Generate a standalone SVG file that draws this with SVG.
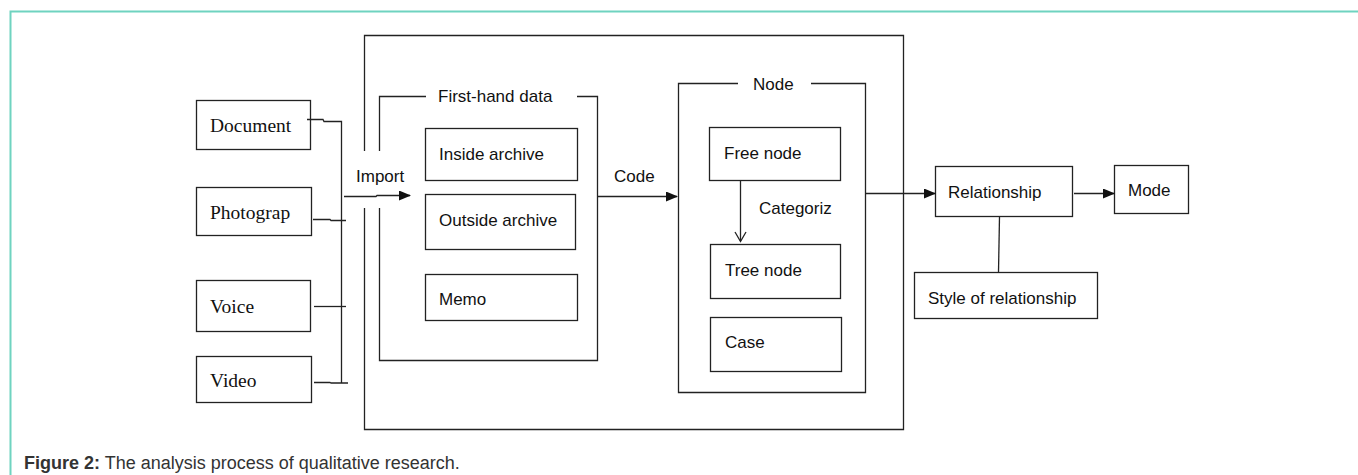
<svg xmlns="http://www.w3.org/2000/svg" width="1358" height="475" viewBox="0 0 1358 475">
<defs>
<style>
.b{fill:#fff;stroke:#222;stroke-width:1.3}
.l{fill:none;stroke:#222;stroke-width:1.3}
.s{font-family:"Liberation Serif","Times New Roman",serif;font-size:19.5px;fill:#111}
.t{font-family:"Liberation Sans",Arial,sans-serif;font-size:17px;fill:#111}
.c{font-family:"Liberation Sans",Arial,sans-serif;font-size:18px;fill:#333}
</style>
<marker id="ah" markerWidth="12" markerHeight="10" refX="11" refY="5" orient="auto" markerUnits="userSpaceOnUse">
<path d="M0,0 L12,5 L0,10 Z" fill="#111"/>
</marker>
</defs>
<rect width="1358" height="475" fill="#fff"/>
<path d="M10.5,475 V11.5 H1358" fill="none" stroke="#6fd3c0" stroke-width="2"/>

<g id="container">
<path class="l" d="M364.5,151 V35.5 H903.5 V429.5 H364.5 V208"/>
</g>
<g id="first-hand-data">
<path class="l" d="M379.5,151 V96.5 H426 M577,96.5 H597.5 V360.5 H379.5 V208"/>
<text class="t" x="438" y="102">First-hand data</text>
</g>
<g id="node-group">
<path class="l" d="M738,83.5 H678.5 V392.5 H865.5 V83.5 H811"/>
<text class="t" x="753" y="90">Node</text>
</g>

<g id="document"><rect class="b" x="196.5" y="100.5" width="114" height="49"/><text class="s" x="210" y="132">Document</text></g>
<g id="photograph"><rect class="b" x="196.5" y="187.5" width="115" height="48"/><text class="s" x="210" y="219">Photograp</text></g>
<g id="voice"><rect class="b" x="196.5" y="280.5" width="114" height="51"/><text class="s" x="210" y="313">Voice</text></g>
<g id="video"><rect class="b" x="196.5" y="356.5" width="115" height="46"/><text class="s" x="210" y="387">Video</text></g>

<g id="inside-archive"><rect class="b" x="425.5" y="128.5" width="152" height="52"/><text class="t" x="439" y="160">Inside archive</text></g>
<g id="outside-archive"><rect class="b" x="425.5" y="194.5" width="150" height="55"/><text class="t" x="439" y="226">Outside archive</text></g>
<g id="memo"><rect class="b" x="425.5" y="274.5" width="152" height="46"/><text class="t" x="439" y="305">Memo</text></g>

<g id="free-node"><rect class="b" x="709.5" y="127.5" width="131" height="53"/><text class="t" x="724" y="159">Free node</text></g>
<g id="tree-node"><rect class="b" x="710.5" y="244.5" width="130" height="54"/><text class="t" x="725" y="276">Tree node</text></g>
<g id="case"><rect class="b" x="710.5" y="317.5" width="131" height="54"/><text class="t" x="725" y="348">Case</text></g>

<g id="relationship"><rect class="b" x="935.5" y="166.5" width="137" height="50"/><text class="t" x="948" y="198">Relationship</text></g>
<g id="mode"><rect class="b" x="1114.5" y="165.5" width="74" height="48"/><text class="t" x="1128" y="196">Mode</text></g>
<g id="style-of-relationship"><rect class="b" x="914.5" y="272.5" width="183" height="46"/><text class="t" x="928" y="304">Style of relationship</text></g>

<g id="connectors">
<path class="l" d="M307,119.5 H323 L324,121.5 H341.5 V383"/>
<path class="l" d="M313,219.5 H330 L331,220.5 H346"/>
<path class="l" d="M314,306.5 H346"/>
<path class="l" d="M314,382.5 H330 L331,383 H348"/>
<path class="l" d="M344,196.5 H376 L377,195.5 H410" marker-end="url(#ah)"/>
<text class="t" x="356" y="182">Import</text>
<path class="l" d="M598,196.5 H677" marker-end="url(#ah)"/>
<text class="t" x="614" y="182">Code</text>
<path class="l" d="M740.5,180 V241"/>
<path class="l" d="M735,232 L740.5,241.5 L746,232"/>
<text class="t" x="759" y="214">Categoriz</text>
<path class="l" d="M865,193.5 H935" marker-end="url(#ah)"/>
<path class="l" d="M1074,193.5 H1114" marker-end="url(#ah)"/>
<path class="l" d="M999.5,217 L998.5,272"/>
</g>

<text class="c" x="24" y="469"><tspan font-weight="bold">Figure 2:</tspan> The analysis process of qualitative research.</text>
</svg>
